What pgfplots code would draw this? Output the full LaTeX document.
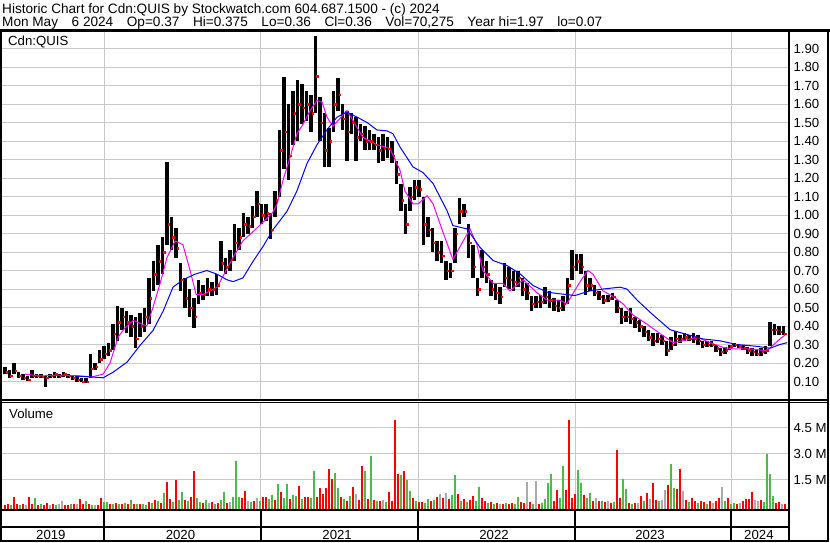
\documentclass[border=0pt]{standalone}
\usepackage{pgfplots}
\pgfplotsset{compat=1.18}
\usepackage{pgfplotstable}
\usepackage{fontspec}
\setmainfont{Liberation Sans}

\definecolor{gridgray}{RGB}{200,200,200}
\definecolor{volred}{RGB}{255,0,0}
\definecolor{volgreen}{RGB}{76,187,76}
\definecolor{volgray}{RGB}{170,170,170}
\definecolor{maline}{RGB}{255,0,255}
\definecolor{blueline}{RGB}{0,0,255}
\newcommand{\chartfont}{\fontsize{13.2pt}{15pt}\selectfont}
\newcommand{\headfont}{\fontsize{13.6pt}{16pt}\selectfont}
\newcommand{\gap}{\hspace{1.0em}}

% x = weeks since 1 Jan 2019
\pgfplotstableread{
w hi lo cl
19 0.18 0.14 0.15
20.5 0.16 0.12 0.13
22 0.20 0.14 0.16
23.5 0.15 0.12 0.13
25 0.14 0.11 0.12
26.5 0.13 0.105 0.11
28 0.16 0.12 0.13
29.5 0.14 0.12 0.13
31 0.14 0.12 0.125
32.5 0.13 0.07 0.12
34 0.14 0.12 0.13
35.5 0.15 0.12 0.14
37 0.14 0.12 0.13
38.5 0.15 0.125 0.14
40 0.14 0.12 0.13
41.5 0.13 0.11 0.12
43 0.13 0.10 0.11
44.5 0.12 0.095 0.10
46 0.12 0.09 0.10
47.5 0.25 0.12 0.17
49 0.20 0.16 0.18
50.5 0.27 0.20 0.22
52 0.29 0.22 0.25
53.5 0.31 0.24 0.27
55 0.41 0.27 0.36
56.5 0.51 0.32 0.42
58 0.50 0.38 0.45
59.5 0.48 0.36 0.42
61 0.46 0.34 0.40
62.5 0.45 0.28 0.33
64 0.47 0.34 0.40
65.5 0.50 0.37 0.45
67 0.66 0.41 0.55
68.5 0.75 0.59 0.68
70 0.84 0.62 0.75
71.5 0.88 0.68 0.80
73 1.285 0.84 0.95
74.5 0.99 0.81 0.88
76 0.93 0.77 0.82
77.5 0.74 0.59 0.65
79 0.66 0.50 0.55
80.5 0.60 0.45 0.50
82 0.55 0.39 0.45
83.5 0.65 0.52 0.58
85 0.62 0.54 0.57
86.5 0.66 0.56 0.60
88 0.64 0.56 0.60
89.5 0.68 0.57 0.62
91 0.86 0.70 0.74
92.5 0.77 0.68 0.72
94 0.81 0.70 0.76
95.5 0.95 0.75 0.85
97 0.93 0.81 0.88
98.5 1.01 0.88 0.95
100 0.99 0.90 0.94
101.5 1.05 0.93 0.99
103 1.13 0.99 1.06
104.5 1.06 0.95 1.00
106 1.06 0.97 1.01
107.5 1.01 0.87 0.92
109 1.13 0.99 1.08
110.5 1.46 1.10 1.35
112 1.745 1.25 1.45
113.5 1.60 1.19 1.32
115 1.67 1.38 1.55
116.5 1.73 1.40 1.60
118 1.71 1.49 1.58
119.5 1.67 1.51 1.60
121 1.65 1.45 1.55
122.5 1.97 1.55 1.75
124 1.64 1.40 1.50
125.5 1.55 1.26 1.35
127 1.47 1.26 1.40
128.5 1.67 1.45 1.60
130 1.74 1.56 1.65
131.5 1.60 1.46 1.52
133 1.56 1.29 1.45
134.5 1.55 1.44 1.50
136 1.53 1.29 1.42
137.5 1.49 1.40 1.44
139 1.48 1.35 1.40
140.5 1.46 1.35 1.40
142 1.44 1.35 1.38
143.5 1.42 1.28 1.35
145 1.44 1.29 1.36
146.5 1.42 1.31 1.36
148 1.40 1.28 1.32
149.5 1.29 1.17 1.22
151 1.17 1.02 1.08
152.5 1.06 0.90 0.95
154 1.15 1.02 1.10
155.5 1.19 1.08 1.15
157 1.19 1.10 1.14
158.5 1.10 0.84 0.95
160 0.99 0.88 0.92
161.5 0.93 0.80 0.85
163 0.86 0.75 0.80
164.5 0.86 0.74 0.78
166 0.75 0.65 0.70
167.5 0.74 0.66 0.70
169 0.93 0.74 0.90
170.5 1.09 0.95 1.02
172 1.06 0.99 1.02
173.5 0.95 0.77 0.85
175 0.84 0.66 0.72
176.5 0.66 0.56 0.60
178 0.81 0.66 0.72
179.5 0.75 0.63 0.68
181 0.65 0.56 0.60
182.5 0.63 0.54 0.58
184 0.61 0.52 0.56
185.5 0.74 0.61 0.66
187 0.72 0.60 0.65
188.5 0.70 0.59 0.64
190 0.70 0.61 0.66
191.5 0.66 0.56 0.60
193 0.63 0.54 0.58
194.5 0.56 0.48 0.52
196 0.56 0.50 0.53
197.5 0.57 0.50 0.53
199 0.61 0.52 0.56
200.5 0.59 0.50 0.54
202 0.55 0.48 0.51
203.5 0.54 0.475 0.50
205 0.56 0.48 0.52
206.5 0.66 0.52 0.62
208 0.81 0.65 0.72
209.5 0.79 0.70 0.75
211 0.79 0.68 0.72
212.5 0.70 0.57 0.62
214 0.66 0.59 0.62
215.5 0.62 0.56 0.58
217 0.59 0.54 0.56
218.5 0.57 0.52 0.54
220 0.57 0.53 0.55
221.5 0.58 0.54 0.56
223 0.54 0.47 0.50
224.5 0.50 0.41 0.45
226 0.48 0.42 0.45
227.5 0.50 0.41 0.44
229 0.45 0.39 0.42
230.5 0.43 0.37 0.40
232 0.40 0.34 0.37
233.5 0.38 0.32 0.34
235 0.36 0.29 0.32
236.5 0.36 0.31 0.33
238 0.35 0.30 0.32
239.5 0.32 0.24 0.27
241 0.34 0.27 0.30
242.5 0.375 0.29 0.33
244 0.35 0.31 0.33
245.5 0.36 0.32 0.34
247 0.35 0.32 0.33
248.5 0.36 0.31 0.33
250 0.35 0.30 0.32
251.5 0.32 0.28 0.30
253 0.32 0.285 0.30
254.5 0.32 0.285 0.30
256 0.30 0.26 0.28
257.5 0.28 0.24 0.26
259 0.285 0.25 0.27
260.5 0.30 0.27 0.29
262 0.31 0.285 0.30
263.5 0.30 0.28 0.29
265 0.30 0.27 0.28
266.5 0.285 0.25 0.27
268 0.28 0.24 0.26
269.5 0.27 0.24 0.25
271 0.28 0.24 0.26
272.5 0.29 0.25 0.27
274 0.42 0.29 0.38
275.5 0.41 0.35 0.38
277 0.40 0.35 0.37
278.5 0.40 0.35 0.36
}\price

\pgfplotstableread{
w v
19 0.05
20 0.08
22 0.49
23 0.10
25 0.08
27 0.49
28 0.12
30 0.05
32 0.06
33 0.15
35 0.10
39 0.04
40 0.05
42 0.08
44 0.38
45 0.12
47 0.10
50 0.06
51 0.47
54 0.12
56 0.15
58 0.08
60 0.10
62 0.12
64 0.08
67 0.20
69 0.34
71 0.15
73 1.36
74 0.40
76 1.50
79 0.34
81 0.53
82 1.98
85 0.18
88 0.20
90 0.15
93 0.18
98 0.44
99 0.86
102 0.25
105 0.53
106 0.50
109 0.35
111 0.82
114 0.40
117 1.15
119 0.53
120 0.50
123 0.53
124 1.02
125 0.70
126 1.02
127 2.14
128 1.56
131 0.50
133 0.30
135 1.11
137 0.35
138 2.27
140 0.40
142 0.34
144 0.25
147 0.82
148 0.30
149 4.93
150 1.85
152 2.02
155 0.44
157 0.20
158 0.20
161 0.25
163 0.53
165 0.45
167 0.40
170 0.69
172 0.40
174 0.35
175 0.57
178 0.44
179 0.25
181 0.20
183 0.15
185 0.10
187 0.12
188 0.18
191 0.20
192 0.15
194 0.20
197 0.12
202 0.30
203 0.92
206 0.92
207 4.93
208 0.44
209 0.67
212 0.63
215 0.30
217 0.25
219 0.20
221 0.15
223 3.24
224 0.45
227 0.15
229 0.18
231 0.57
233 0.73
235 1.31
236 0.35
240 1.21
243 0.96
244 2.14
246 0.35
248 0.44
249 0.25
251 0.30
252 0.20
254 0.25
256 0.30
257 0.45
260 0.44
263 0.10
265 0.30
266 0.40
267 0.40
268 0.82
271 0.35
276 0.15
277 0.20
279 0.12
}\volred

\pgfplotstableread{
w v
21 0.04
24 0.06
29 0.44
31 0.08
36 0.05
41 0.10
46 0.28
48 0.05
52 0.24
53 0.22
55 0.10
57 0.12
59 0.18
61 0.34
63 0.10
65 0.12
66 0.06
68 0.15
70 0.25
72 0.72
75 0.20
77 0.35
78 0.82
80 0.30
83 0.44
84 0.22
86 0.34
89 0.12
91 0.34
92 0.82
95 0.53
96 2.60
97 0.53
101 0.22
104 0.30
107 0.40
108 0.65
110 1.25
112 0.45
113 1.27
115 0.63
116 0.55
118 0.40
121 0.45
122 2.02
129 1.89
130 1.02
132 0.40
134 0.55
139 2.02
141 2.89
143 0.30
146 0.20
151 1.79
153 1.50
154 0.88
156 0.25
159 0.18
160 0.40
162 0.35
168 0.63
169 1.79
171 0.30
173 0.20
176 0.30
177 1.07
180 0.15
182 0.12
186 0.15
189 0.10
190 0.49
195 0.12
198 0.18
199 0.42
200 1.34
201 1.85
204 0.45
205 2.27
210 2.04
211 1.31
213 0.45
214 0.76
218 0.30
222 0.20
225 1.56
226 0.96
228 0.12
232 0.25
237 0.30
241 2.43
242 1.02
247 0.20
250 0.15
253 0.12
259 0.30
261 0.12
262 0.15
272 0.20
273 3.01
274 1.85
275 0.55
}\volgreen

\pgfplotstableread{
w v
26 0.06
34 0.07
37 0.12
38 0.28
43 0.12
49 0.06
87 0.15
94 0.20
100 0.25
103 0.47
136 0.67
145 0.35
164 0.67
166 0.76
184 0.12
193 1.40
196 1.44
216 0.47
220 0.25
230 0.15
234 0.40
238 0.34
239 0.92
245 0.86
255 0.15
258 1.07
264 0.15
269 0.35
270 0.30
278 0.10
}\volgray

\pgfplotsset{
  hlbars/.style n args={3}{only marks, mark=*, mark size=0pt,
    mark options={draw=none, fill=none},
    error bars/.cd, y dir=#3, y explicit, error mark=none,
    error bar style={draw=#1, line width=#2}},
}

\begin{document}
\chartfont
\begin{tikzpicture}[every node/.append style={font=\chartfont}]
\path[use as bounding box] (0pt,0pt) rectangle (830pt,-543pt);

% price panel
\begin{axis}[
  at={(2pt,-31pt)}, anchor=north west,
  scale only axis, width=787pt, height=369pt,
  xmin=18, xmax=280.33, ymin=0, ymax=1.995,
  axis line style={draw=none},
  major tick length=0pt,
  xtick={52,104.33,156.67,209,261}, xticklabels={},
  ytick={0.1,0.2,0.3,0.4,0.5,0.6,0.7,0.8,0.9,1.0,1.1,1.2,1.3,1.4,1.5,1.6,1.7,1.8,1.9},
  yticklabels={0.10,0.20,0.30,0.40,0.50,0.60,0.70,0.80,0.90,1.00,1.10,1.20,1.30,1.40,1.50,1.60,1.70,1.80,1.90},
  yticklabel pos=right,
  tick label style={font=\chartfont},
  grid=major, grid style={gridgray, line width=1pt},
]
\addplot[hlbars={black}{3.8pt}{plus}]
  table[x=w, y=lo, y error plus expr=\thisrow{hi}-\thisrow{lo}] {\price};
\addplot[only marks, mark=square*, mark size=0.7pt, color=volred,
  mark options={draw=none, xshift=1.6pt}]
  table[x=w, y=cl] {\price};
\addplot[maline, line width=1pt] coordinates {
(25.7,0.14) (30.7,0.13) (37.3,0.135) (44.0,0.13) (48.0,0.125) (51.7,0.14)
(54.0,0.20) (56.7,0.34) (59.0,0.39) (61.7,0.43) (66.3,0.40) (68.3,0.50)
(70.7,0.63) (73.0,0.77) (75.7,0.86) (78.3,0.84) (80.7,0.70) (82.7,0.57)
(85.0,0.57) (89.7,0.61) (95.0,0.77) (98.3,0.86) (103.0,0.93) (108.3,1.015)
(109.7,1.06) (111.7,1.19) (114.0,1.31) (116.3,1.44) (118.3,1.49) (120.7,1.565)
(123.0,1.62) (124.7,1.61) (126.3,1.53) (128.3,1.48) (133.0,1.565) (136.3,1.475)
(138.3,1.42) (143.0,1.38) (147.3,1.36) (150.7,1.24) (152.3,1.13) (155.0,1.06)
(156.7,1.06) (159.7,1.105) (161.7,1.06) (164.7,0.92) (168.3,0.76) (170.7,0.83)
(174.0,0.925) (176.3,0.84) (178.3,0.70) (181.7,0.63) (185.0,0.63) (187.3,0.59)
(191.7,0.65) (196.3,0.58) (199.7,0.54) (204.0,0.54) (206.3,0.52) (210.7,0.64)
(213.3,0.70) (215.0,0.68) (218.3,0.59) (221.7,0.56) (225.0,0.52) (228.3,0.46)
(233.0,0.41) (237.3,0.36) (241.7,0.31) (245.0,0.32) (249.7,0.34) (254.0,0.31)
(258.3,0.285) (261.7,0.276) (267.3,0.276) (273.0,0.267) (277.3,0.33) (279.7,0.36)
};
\addplot[blueline, line width=1pt] coordinates {
(42.3,0.13) (47.3,0.125) (51.7,0.12) (55.0,0.15) (59.7,0.205) (64.0,0.295)
(68.3,0.375) (71.7,0.48) (75.0,0.61) (78.3,0.65) (82.3,0.68) (86.3,0.70)
(89.7,0.68) (93.0,0.65) (95.0,0.64) (98.3,0.66) (101.7,0.75) (105.0,0.83)
(108.3,0.92) (113.0,1.02) (116.3,1.13) (119.7,1.28) (123.0,1.38) (126.3,1.46)
(129.7,1.53) (133.0,1.556) (136.3,1.53) (139.7,1.50) (143.0,1.46) (146.3,1.455)
(148.3,1.44) (150.7,1.367) (155.0,1.26) (158.3,1.23) (161.7,1.17) (166.3,1.025)
(168.3,0.943) (173.0,0.925) (177.3,0.826) (181.7,0.754) (186.3,0.727) (190.7,0.682)
(195.0,0.619) (199.7,0.583) (204.0,0.574) (209.0,0.565) (214.0,0.59) (218.3,0.60)
(224.0,0.61) (226.3,0.60) (229.7,0.54) (235.0,0.46) (240.7,0.38) (245.0,0.36)
(251.7,0.33) (257.3,0.32) (263.0,0.30) (269.7,0.29) (274.0,0.28) (277.3,0.30)
(279.7,0.31)
};
\end{axis}

% volume panel
\begin{axis}[
  at={(2pt,-403pt)}, anchor=north west,
  scale only axis, width=787pt, height=106pt,
  xmin=18, xmax=280.33, ymin=-0.185, ymax=5.93,
  axis line style={draw=none},
  major tick length=0pt, minor tick length=0pt,
  xtick={34.3,77.5,129.7,182,234,270.3},
  xticklabels={2019,2020,2021,2022,2023,2024},
  minor xtick={52,104.33,156.67,209,261},
  xticklabel style={anchor=base, yshift=-30pt},
  ytick={1.5,3,4.5}, yticklabels={1.5 M,3.0 M,4.5 M},
  yticklabel pos=right,
  tick label style={font=\chartfont},
  xminorgrids, ymajorgrids,
  grid style={gridgray, line width=1pt},
  minor grid style={gridgray, line width=1pt},
]
\addplot[hlbars={volgray}{2pt}{minus}]
  table[x=w, y=v, y error minus expr=\thisrow{v}+0.3] {\volgray};
\addplot[hlbars={volgreen}{2pt}{minus}]
  table[x=w, y=v, y error minus expr=\thisrow{v}+0.3] {\volgreen};
\addplot[hlbars={volred}{2pt}{minus}]
  table[x=w, y=v, y error minus expr=\thisrow{v}+0.3] {\volred};
\end{axis}

% frame
\draw[line width=2.5pt] (0pt,-30.5pt) -- (830pt,-30.5pt);
\draw[line width=2pt] (1pt,-30pt) -- (1pt,-542pt);
\draw[line width=2pt] (789pt,-30pt) -- (789pt,-542pt);
\draw[line width=2pt] (828pt,-30pt) -- (828pt,-542pt);
\draw[line width=1.8pt] (0pt,-400.2pt) -- (829pt,-400.2pt);
\draw[line width=1pt] (0pt,-402.5pt) -- (829pt,-402.5pt);
\draw[line width=2pt] (0pt,-509.5pt) -- (789pt,-509.5pt);
\draw[line width=2pt] (0pt,-526.5pt) -- (789pt,-526.5pt);
\draw[line width=2pt] (0pt,-541pt) -- (829pt,-541pt);
\foreach \px in {104,261,418,575,731}
  \draw[line width=2pt] (\px pt,-509.5pt) -- (\px pt,-541pt);

% texts
\node[anchor=base west, inner sep=0pt, font=\headfont] at (2pt,-13.5pt)
  {Historic Chart for Cdn:QUIS by Stockwatch.com 604.687.1500 - (c) 2024};
\node[anchor=base west, inner sep=0pt, font=\headfont] at (2pt,-27pt)
  {Mon May\gap 6 2024\gap Op=0.37\gap Hi=0.375\gap Lo=0.36\gap Cl=0.36\gap Vol=70,275\gap Year hi=1.97\gap lo=0.07};
\node[anchor=base west, inner sep=0pt] at (8pt,-46pt) {Cdn:QUIS};
\node[anchor=base west, inner sep=0pt] at (9pt,-418pt) {Volume};
\end{tikzpicture}
\end{document}
